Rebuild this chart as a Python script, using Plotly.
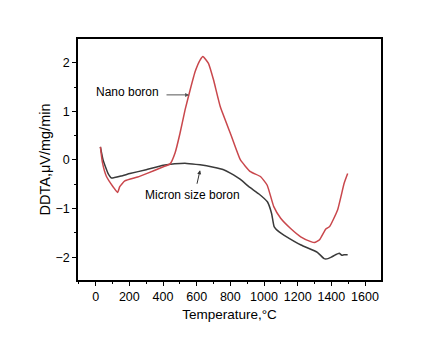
import plotly.graph_objects as go

# Nano boron (red)
nano_T = [28, 40, 64, 103, 130, 143, 173, 250, 302, 402, 442, 472, 501, 531, 561, 591, 621, 637,
          670, 700, 740, 800, 860, 919, 979, 1019, 1058, 1099, 1158, 1218, 1278, 1300, 1330, 1367,
          1390, 1437, 1476, 1497]
nano_v = [0.27, -0.05, -0.34, -0.55, -0.67, -0.55, -0.43, -0.35, -0.28, -0.14, -0.08, 0.15, 0.55, 1.03,
          1.44, 1.82, 2.06, 2.13, 1.99, 1.65, 1.1, 0.55, 0.0, -0.24, -0.34, -0.52, -0.96, -1.2, -1.41,
          -1.58, -1.68, -1.70, -1.64, -1.42, -1.37, -1.03, -0.48, -0.28]

# Micron size boron (dark gray)
micron_T = [28, 44, 74, 94, 150, 203, 300, 402, 470, 541, 620, 700, 760, 800, 860, 910, 970, 1020,
            1045, 1060, 1090, 1120, 1220, 1317, 1357, 1380, 1400, 1425, 1447, 1462, 1475, 1497]
micron_v = [0.27, 0.0, -0.28, -0.37, -0.33, -0.28, -0.2, -0.11, -0.08, -0.07, -0.1, -0.15, -0.2, -0.27,
            -0.4, -0.55, -0.7, -0.86, -1.1, -1.37, -1.48, -1.55, -1.75, -1.9, -2.03, -2.03, -2.0,
            -1.95, -1.92, -1.96, -1.95, -1.95]

x_ticks = [0, 200, 400, 600, 800, 1000, 1200, 1400, 1600]
y_ticks = [-2, -1, 0, 1, 2]

fam = "Liberation Sans, Arial, sans-serif"

fig = go.Figure()
fig.add_trace(go.Scatter(x=micron_T, y=micron_v, mode="lines",
                         line=dict(color="#3a3a3a", width=1.5, shape="spline", smoothing=0.4), name="Micron size boron"))
fig.add_trace(go.Scatter(x=nano_T, y=nano_v, mode="lines",
                         line=dict(color="#c9474c", width=1.5, shape="spline", smoothing=0.4), name="Nano boron"))

fig.add_annotation(x=555, y=1.34, ax=412, ay=1.34, xref="x", yref="y", axref="x", ayref="y",
                   showarrow=True, arrowhead=2, arrowsize=0.8, arrowwidth=1, arrowcolor="#555", text="")
fig.add_annotation(x=191, y=1.40, text="Nano boron", showarrow=False, font=dict(family=fam, size=12, color="black"))
fig.add_annotation(x=620, y=-0.21, ax=600, ay=-0.52, xref="x", yref="y", axref="x", ayref="y",
                   showarrow=True, arrowhead=2, arrowsize=0.8, arrowwidth=1, arrowcolor="#333", text="")
fig.add_annotation(x=575, y=-0.72, text="Micron size boron", showarrow=False, font=dict(family=fam, size=12, color="black"))

fig.update_layout(
    width=442, height=337,
    margin=dict(l=78, r=61, t=39, b=57),
    plot_bgcolor="white", paper_bgcolor="white",
    showlegend=False,
    font=dict(family=fam, size=12, color="black"),
)
fig.update_xaxes(range=[-105, 1695], tickvals=x_ticks, ticks="outside", ticklen=4, tickwidth=1.2, tickcolor="black",
                 showline=True, linecolor="black", linewidth=1.5, mirror=True, showgrid=False, zeroline=False,
                 minor=dict(dtick=100, tick0=0, ticks="outside", ticklen=2, tickwidth=1, tickcolor="black"),
                 title=dict(text="Temperature,°C", standoff=7, font=dict(family=fam, size=13.5)),
                 tickfont=dict(family=fam, size=12.5), automargin=False)
fig.update_yaxes(range=[-2.47, 2.49], tickvals=y_ticks, ticks="outside", ticklen=4, tickwidth=1.2, tickcolor="black",
                 showline=True, linecolor="black", linewidth=1.5, mirror=True, showgrid=False, zeroline=False,
                 minor=dict(dtick=0.5, tick0=0, ticks="outside", ticklen=2, tickwidth=1, tickcolor="black"),
                 title=dict(text="DDTA,μV/mg/min", standoff=1, font=dict(family=fam, size=14.5)),
                 tickfont=dict(family=fam, size=12.5), automargin=False)

fig.write_html("out.html", config={"displayModeBar": False},
               post_script="document.body.style.margin='0';document.body.style.padding='0';")
